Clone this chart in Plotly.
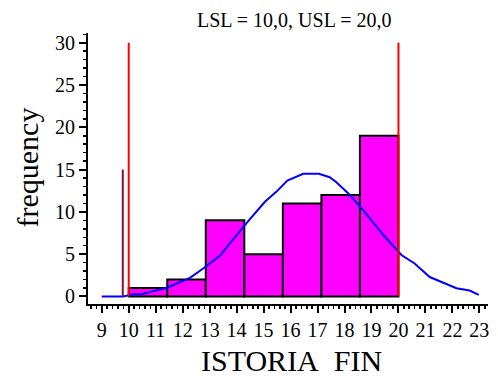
import plotly.graph_objects as go

# ---- data ----
bin_edges = [10.0, 11.4286, 12.8571, 14.2857, 15.7143, 17.1429, 18.5714, 20.0]
counts = [1, 2, 9, 5, 11, 12, 19]

curve_x = [9.0, 9.79, 10.17, 10.48, 10.85, 11.41, 11.65, 12.27, 12.76, 13.38, 13.81,
           14.24, 14.43, 15.05, 15.48, 15.88, 16.47, 17.05, 17.45, 17.7, 18.2, 18.69,
           19.43, 20.11, 20.6, 21.16, 21.65, 22.15, 22.64, 22.98]
curve_y = [0, 0, 0.26, 0.26, 0.57, 1.04, 1.36, 2.2, 3.3, 4.8, 6.5,
           8.2, 8.9, 11.2, 12.4, 13.7, 14.5, 14.5, 14.1, 13.5, 12.0, 10.2,
           7.3, 4.9, 3.9, 2.3, 1.6, 0.97, 0.7, 0.18]

lsl = 10.0
usl = 20.0
spec_height = 30
marker_x = 9.78
marker_height = 15

x_ticks = list(range(9, 24))
y_ticks = [0, 5, 10, 15, 20, 25, 30]

title_text = "LSL = 10,0, USL = 20,0"
x_title = "ISTORIA\u00a0\u00a0FIN"
y_title = "frequency"

# ---- figure ----
centers = [(bin_edges[i] + bin_edges[i + 1]) / 2 for i in range(len(counts))]
widths = [bin_edges[i + 1] - bin_edges[i] for i in range(len(counts))]

fig = go.Figure()
fig.add_trace(go.Bar(x=centers, y=counts, width=widths,
                     marker=dict(color="#ff00ff", line=dict(color="black", width=2)),
                     hoverinfo="skip"))
fig.add_trace(go.Scatter(x=curve_x, y=curve_y, mode="lines",
                         line=dict(color="#0000ff", width=2)))
fig.add_trace(go.Scatter(x=[lsl, lsl], y=[0, spec_height], mode="lines",
                         line=dict(color="#ff0000", width=2)))
fig.add_trace(go.Scatter(x=[usl, usl], y=[0, spec_height], mode="lines",
                         line=dict(color="#ff0000", width=2)))
fig.add_trace(go.Scatter(x=[marker_x, marker_x], y=[0, marker_height], mode="lines",
                         line=dict(color="#80103f", width=2)))

serif = "Liberation Serif, Times New Roman, serif"
W, H = 498, 376
L, R, T, B = 88, 10, 33, 72
pw, ph = W - L - R, H - T - B

def px_x(p):
    return (p - L) / pw

def px_y(p):
    return (H - B - p) / ph

fig.update_layout(
    width=W, height=H,
    margin=dict(l=L, r=R, t=T, b=B),
    paper_bgcolor="white", plot_bgcolor="white",
    showlegend=False,
    bargap=0,
    font=dict(family=serif, color="black", size=20),
    annotations=[
        dict(text=title_text, xref="paper", yref="paper",
             x=px_x(294), y=px_y(20), xanchor="center", yanchor="middle",
             showarrow=False, font=dict(family=serif, size=20, color="black")),
        dict(text=x_title, xref="paper", yref="paper",
             x=px_x(291), y=px_y(360), xanchor="center", yanchor="middle",
             showarrow=False, font=dict(family=serif, size=30, color="black")),
        dict(text=y_title, xref="paper", yref="paper", textangle=-90,
             x=px_x(27), y=px_y(167.5), xanchor="center", yanchor="middle",
             showarrow=False, font=dict(family=serif, size=30, color="black")),
    ],
)
fig.update_xaxes(
    range=[8.49, 23.32], tickmode="array", tickvals=x_ticks,
    ticktext=[str(v) for v in x_ticks], automargin=False,
    showgrid=False, zeroline=False, showline=True, linecolor="black", linewidth=2,
    ticks="outside", ticklen=7, tickwidth=2, tickcolor="black",
    tickfont=dict(family=serif, size=20, color="black"),
    minor=dict(dtick=0.2, tick0=9, ticks="outside", ticklen=3, tickwidth=1.5, tickcolor="black"),
)
fig.update_yaxes(
    range=[-0.89, 31.15], tickmode="array", tickvals=y_ticks, automargin=False,
    showgrid=False, zeroline=False, showline=True, linecolor="black", linewidth=2,
    ticks="outside", ticklen=7, tickwidth=2, tickcolor="black",
    tickfont=dict(family=serif, size=20, color="black"),
    minor=dict(dtick=1, tick0=0, ticks="outside", ticklen=3, tickwidth=1.5, tickcolor="black"),
)

fig.write_html("out.html",
               config={"displayModeBar": False, "staticPlot": True},
               post_script="document.body.style.margin='0';document.body.style.overflow='hidden';")
